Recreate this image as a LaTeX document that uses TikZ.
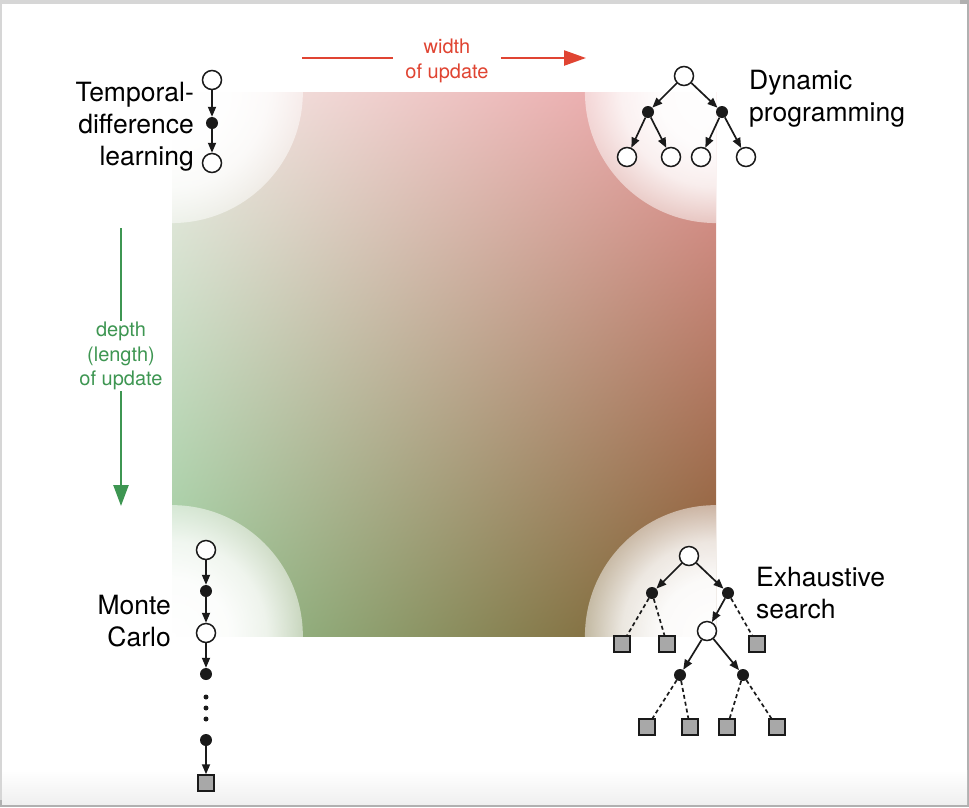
\documentclass[tikz,border=0pt]{standalone}
\usepackage{fontspec}
\setmainfont{TeX Gyre Heros}
\usetikzlibrary{arrows.meta,fadings,shadings}

\definecolor{widthred}{RGB}{224,68,50}
\definecolor{depthgreen}{RGB}{62,150,82}
\definecolor{leafgray}{RGB}{168,168,168}
\definecolor{ink}{RGB}{26,26,26}
\definecolor{pageedge}{RGB}{214,214,214}
\definecolor{pageshadow}{RGB}{176,176,176}

% update space: bilinear blend of four corner colours
% (bottom-left green, bottom-right brown, top-left near white, top-right rose)
\pgfdeclarefunctionalshading{updatespace}{\pgfpoint{0bp}{0bp}}{\pgfpoint{100bp}{100bp}}{}{
  25 sub 50 div exch 25 sub 50 div exch
  2 copy mul
  0.588 3 index -0.086 mul add 2 index 0.365 mul add 1 index 0.047 mul add
  0.784 4 index -0.439 mul add 3 index 0.149 mul add 2 index 0.116 mul add
  0.588 5 index -0.423 mul add 4 index 0.330 mul add 3 index 0.125 mul add
  6 3 roll pop pop pop
}

% soft white glow in each corner of the square
\pgfdeclareradialshading{cornerglow}{\pgfpointorigin}{%
  color(0bp)=(pgftransparent!0); color(11bp)=(pgftransparent!3);
  color(18bp)=(pgftransparent!16);
  color(25bp)=(pgftransparent!50); color(50bp)=(pgftransparent!50)}
\pgfdeclarefading{cornerfade}{\pgfuseshading{cornerglow}}

\tikzset{
  opencirc/.style={circle, draw=ink, fill=white, line width=1.5pt, minimum size=19pt, inner sep=0pt},
  fillcirc/.style={circle, fill=ink, minimum size=12pt, inner sep=0pt},
  tinydot/.style={circle, fill=ink, minimum size=5pt, inner sep=0pt},
  leafbox/.style={rectangle, draw=ink, fill=leafgray, line width=1.5pt, minimum size=16pt, inner sep=0pt},
  treearrow/.style={draw=ink, line width=1.7pt, -{Triangle[length=10pt,width=8pt]}},
  dashlink/.style={draw=ink, line width=1.7pt, dash pattern=on 4pt off 3pt},
  bigtext/.style={font=\fontsize{26.5}{32}\selectfont, inner sep=0pt, text=black},
  axistext/.style={font=\fontsize{20}{24.5}\selectfont, align=center, inner ysep=1pt, inner xsep=12pt},
  axisline/.style={line width=2.4pt}
}

\begin{document}
\begin{tikzpicture}[x=1pt,y=-1pt]
\useasboundingbox (0,0) rectangle (969,807);

% page with its shadowed edge
\fill[pageedge] (0,0) rectangle (969,807);
\fill[pageshadow] (960,0) rectangle (969,807);
\fill[pageshadow] (0,800) rectangle (969,807);
\fill[white] (2,4) rectangle (967,804);
\fill[top color=white, bottom color=black!6] (2,770) rectangle (967,804);

% colour square
\shade[shading=updatespace] (172,92) rectangle (716,636);
\begin{scope}
  \clip (172,92) rectangle (716,636);
  \fill[white, path fading=cornerfade] (172,92) circle (131);
  \fill[white, path fading=cornerfade] (716,92) circle (131);
  \fill[white, path fading=cornerfade] (172,636) circle (131);
  \fill[white, path fading=cornerfade] (716,636) circle (131);
\end{scope}

% width axis
\node[axistext, text=widthred] (wtext) at (447,61) {width\\of update};
\coordinate (wfrom) at (302,58);
\coordinate (wto) at (586,58);
\draw[widthred, axisline] (wfrom) -- (wfrom -| wtext.west);
\draw[widthred, axisline, -{Triangle[length=22pt,width=15pt]}] (wfrom -| wtext.east) -- (wto);

% depth axis
\node[axistext, text=depthgreen] (dtext) at (121,356) {depth\\(length)\\of update};
\coordinate (dfrom) at (121,228);
\coordinate (dto) at (121,506);
\draw[depthgreen, axisline] (dfrom) -- (dtext.north);
\draw[depthgreen, axisline, -{Triangle[length=21pt,width=15pt]}] (dtext.south) -- (dto);

% temporal-difference backup
\node[opencirc] (td1) at (212,80) {};
\node[fillcirc] (td2) at (212,123) {};
\node[opencirc] (td3) at (212,163) {};
\draw[treearrow] (td1) -- (td2);
\draw[treearrow] (td2) -- (td3);
\node[bigtext, align=right, anchor=east] (tdlabel) at (194,127) {Temporal-\\difference\\learning};

% dynamic programming backup
\node[opencirc] (dp0) at (684,76) {};
\node[fillcirc] (dpa) at (648,112) {};
\node[fillcirc] (dpb) at (722,112) {};
\node[opencirc] (dp1) at (627,157) {};
\node[opencirc] (dp2) at (671,157) {};
\node[opencirc] (dp3) at (701,157) {};
\node[opencirc] (dp4) at (746,157) {};
\draw[treearrow] (dp0) -- (dpa);
\draw[treearrow] (dp0) -- (dpb);
\draw[treearrow] (dpa) -- (dp1);
\draw[treearrow] (dpa) -- (dp2);
\draw[treearrow] (dpb) -- (dp3);
\draw[treearrow] (dpb) -- (dp4);
\node[bigtext, align=left, anchor=west] (dplabel) at (749,99) {Dynamic\\programming};

% Monte Carlo backup
\node[opencirc] (mc1) at (206,550) {};
\node[fillcirc] (mc2) at (206,591) {};
\node[opencirc] (mc3) at (206,633) {};
\node[fillcirc] (mc4) at (206,674) {};
\node[tinydot] (mcd1) at (206,697) {};
\node[tinydot] (mcd2) at (206,708) {};
\node[tinydot] (mcd3) at (206,719) {};
\node[fillcirc] (mc5) at (206,740) {};
\node[leafbox] (mcend) at (206,783) {};
\draw[treearrow] (mc1) -- (mc2);
\draw[treearrow] (mc2) -- (mc3);
\draw[treearrow] (mc3) -- (mc4);
\draw[treearrow] (mc5) -- (mcend);
\node[bigtext, align=right, anchor=east] (mclabel) at (171,621) {Monte\\Carlo};

% exhaustive search backup
\node[opencirc] (es0) at (689,556) {};
\node[fillcirc] (esa) at (652,593) {};
\node[fillcirc] (esb) at (728,593) {};
\node[opencirc] (esc) at (707,631) {};
\node[leafbox] (esl1) at (622,644) {};
\node[leafbox] (esl2) at (667,644) {};
\node[leafbox] (esl3) at (757,644) {};
\node[fillcirc] (esd) at (680,675) {};
\node[fillcirc] (ese) at (743,675) {};
\node[leafbox] (esm1) at (647,727) {};
\node[leafbox] (esm2) at (690,727) {};
\node[leafbox] (esm3) at (727,727) {};
\node[leafbox] (esm4) at (777,727) {};
\draw[treearrow] (es0) -- (esa);
\draw[treearrow] (es0) -- (esb);
\draw[treearrow] (esb) -- (esc);
\draw[treearrow] (esc) -- (esd);
\draw[treearrow] (esc) -- (ese);
\draw[dashlink] (esa) -- (esl1);
\draw[dashlink] (esa) -- (esl2);
\draw[dashlink] (esb) -- (esl3);
\draw[dashlink] (esd) -- (esm1);
\draw[dashlink] (esd) -- (esm2);
\draw[dashlink] (ese) -- (esm3);
\draw[dashlink] (ese) -- (esm4);
\node[bigtext, align=left, anchor=west] (eslabel) at (756,593) {Exhaustive\\search};
\end{tikzpicture}
\end{document}
